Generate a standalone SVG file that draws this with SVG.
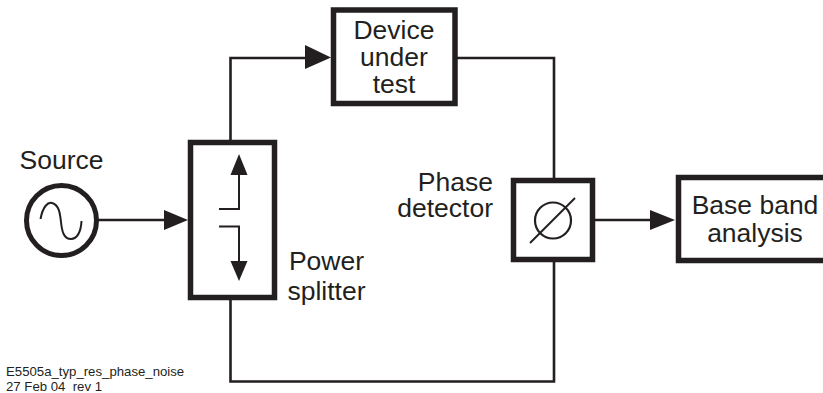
<svg xmlns="http://www.w3.org/2000/svg" width="823" height="393" viewBox="0 0 823 393">
<defs><style>
.box{fill:#fff;stroke:#231f20;stroke-width:5.5}
.wire{fill:none;stroke:#231f20;stroke-width:2.600}
.thin{fill:none;stroke:#231f20;stroke-width:2}
.head{fill:#231f20;stroke:none}
text{font-family:"Liberation Sans",Arial,sans-serif;fill:#231f20;font-size:26.500px}
.m{text-anchor:middle}.e{text-anchor:end}
.small{font-size:13.200px}
</style></defs>
<rect width="823" height="393" fill="#fff"/>
<g id="connectors">
<path class="wire" d="M230.500 142V58H306"/>
<path class="wire" d="M456 58H554V180"/>
<path class="wire" d="M230.500 298V381.500H554V260"/>
<path class="wire" d="M98 220H166"/>
<path class="wire" d="M594 220H652"/>
<polygon class="head" points="305,45 331,57.500 305,69"/>
<polygon class="head" points="164,210 188,220 164,230"/>
<polygon class="head" points="650,210 675,220 650,230"/>
</g>
<g id="source">
<circle cx="61.500" cy="220.500" r="35" fill="#fff" stroke="#231f20" stroke-width="5"/>
<path class="thin" d="M40.500 219C43 206 48 202 52 203C59 205 60 213 61 222C62 232 64 239 71 239C77 239 81 232 81.500 221"/>
<text x="61.500" y="169" class="m">Source</text>
</g>
<g id="splitter">
<rect class="box" x="190.500" y="142.500" width="84" height="155"/>
<path class="thin" d="M219 209H239V172"/>
<path class="thin" d="M219 226.500H239V263"/>
<polygon class="head" points="239,154 247.500,175 230.500,175"/>
<polygon class="head" points="239,281 230.500,261 247.500,261"/>
<text x="326.500" y="270" class="m">Power</text>
<text x="326.500" y="300" class="m">splitter</text>
</g>
<g id="dut">
<rect class="box" x="333.500" y="10" width="121.500" height="93.500"/>
<text x="394" y="39" class="m">Device</text>
<text x="394" y="66" class="m">under</text>
<text x="394" y="93" class="m">test</text>
</g>
<g id="detector">
<rect class="box" x="513.500" y="180.500" width="79" height="79"/>
<circle cx="553" cy="220.500" r="18" fill="none" stroke="#231f20" stroke-width="2.200"/>
<path class="thin" d="M530 243L575 198"/>
<text x="493" y="190.500" class="e">Phase</text>
<text x="493" y="216.500" class="e">detector</text>
</g>
<g id="baseband">
<rect class="box" x="678.500" y="177.500" width="150" height="83"/>
<text x="755" y="214" class="m">Base band</text>
<text x="755" y="241.500" class="m">analysis</text>
</g>
<g id="caption">
<text x="6" y="376" class="small">E5505a_typ_res_phase_noise</text>
<text x="6" y="391" class="small" xml:space="preserve">27 Feb 04  rev 1</text>
</g>
</svg>
